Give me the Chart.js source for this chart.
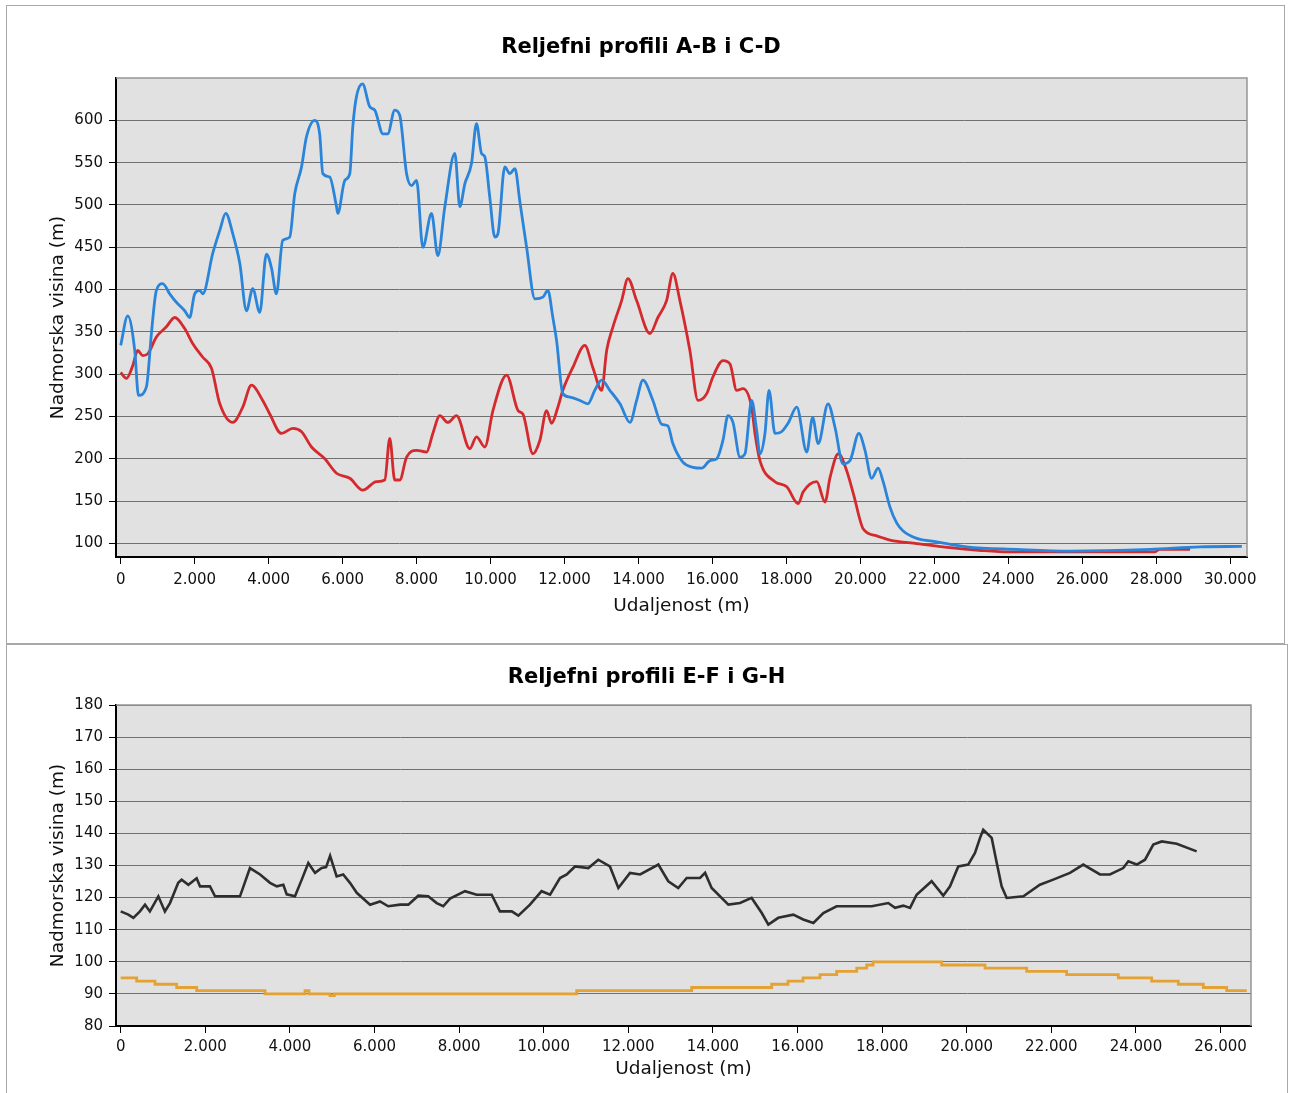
<!DOCTYPE html>
<html>
<head>
<meta charset="utf-8">
<title>Reljefni profili</title>
<script src="https://cdn.jsdelivr.net/npm/chart.js@4.4.1/dist/chart.umd.min.js"></script>
<style>
  body { margin: 0; background: #fff; width: 1292px; height: 1093px; position: relative; overflow: hidden; }
  .panel { position: absolute; border: 1px solid #a8a8a8; box-sizing: border-box; }
  canvas { position: absolute; }
</style>
</head>
<body>
<div class="panel" style="left:6px;top:5px;width:1279px;height:639px"></div>
<div class="panel" style="left:6px;top:644px;width:1282px;height:460px"></div>
<canvas id="chartTop" width="1268" height="636" style="left:7px;top:6px"></canvas>
<canvas id="chartBottom" width="1279" height="447" style="left:7px;top:646px"></canvas>
<script>
// tick vrijednosti
const xTicksTop = [0, 2000, 4000, 6000, 8000, 10000, 12000, 14000, 16000, 18000, 20000, 22000, 24000, 26000, 28000, 30000];
const yTicksTop = [100, 150, 200, 250, 300, 350, 400, 450, 500, 550, 600];
const xTicksBottom = [0, 2000, 4000, 6000, 8000, 10000, 12000, 14000, 16000, 18000, 20000, 22000, 24000, 26000];
const yTicksBottom = [80, 90, 100, 110, 120, 130, 140, 150, 160, 170, 180];

// profil A-B (plava)
const distAB = [0, 190, 380, 480, 695, 830, 920, 965, 1135, 1325,
  1505, 1730, 1865, 2000, 2135, 2220, 2490, 2680, 2840, 3030,
  3220, 3400, 3570, 3760, 3940, 4075, 4210, 4380, 4570, 4705,
  4890, 5020, 5250, 5380, 5465, 5650, 5835, 5870, 6060, 6195,
  6275, 6375, 6540, 6735, 6870, 7090, 7220, 7410, 7545, 7730,
  7865, 8000, 8170, 8405, 8575, 8765, 9035, 9170, 9305, 9485,
  9620, 9755, 9845, 9980, 10115, 10200, 10385, 10520, 10660, 10790,
  10975, 11200, 11415, 11550, 11685, 11785, 11955, 12145, 12415, 12630,
  12820, 13005, 13225, 13500, 13770, 13950, 14120, 14390, 14625, 14795,
  14930, 15200, 15475, 15710, 15935, 16115, 16285, 16420, 16555, 16745,
  16880, 17060, 17195, 17285, 17420, 17530, 17690, 17870, 18045, 18280,
  18550, 18710, 18860, 19125, 19315, 19530, 19720, 19960, 20125, 20305,
  20480, 20610, 20800, 20985, 21150, 21525, 22065, 22875, 24230, 25670,
  27835, 29185, 30315];
const elevAB = [334, 369, 328, 275, 285, 348, 387, 399, 407, 395,
  385, 375, 367, 395, 399, 395, 443, 470, 490, 466,
  431, 375, 401, 373, 442, 426, 395, 458, 462, 513,
  545, 580, 600, 584, 537, 533, 498, 490, 529, 537,
  592, 628, 643, 616, 612, 584, 584, 612, 606, 537,
  523, 529, 450, 490, 440, 498, 561, 498, 525, 549,
  596, 561, 557, 509, 462, 466, 545, 537, 543, 505,
  450, 389, 391, 399, 367, 340, 277, 273, 269, 265,
  281, 293, 281, 265, 243, 269, 293, 269, 241, 239,
  218, 196, 190, 189, 198, 200, 222, 251, 243, 202,
  206, 269, 234, 206, 230, 281, 230, 232, 242, 261,
  208, 249, 218, 265, 237, 194, 198, 230, 210, 177,
  189, 174, 143, 124, 115, 106, 102, 96, 93, 91,
  93, 96, 96.5];

// profil C-D (crvena)
const distCD = [0, 155, 325, 460, 595, 730, 965, 1235, 1460, 1730,
  1950, 2220, 2455, 2680, 3030, 3300, 3535, 3840, 4030, 4345,
  4655, 4890, 5160, 5520, 5835, 6195, 6545, 6915, 7140, 7275,
  7410, 7545, 7730, 8000, 8270, 8440, 8630, 8845, 9080, 9440,
  9620, 9845, 10065, 10435, 10745, 10875, 11145, 11335, 11515, 11650,
  11820, 11955, 12225, 12550, 12765, 13005, 13140, 13310, 13545, 13715,
  13950, 14310, 14525, 14760, 14930, 15120, 15390, 15610, 15845, 16015,
  16285, 16475, 16655, 16825, 17060, 17150, 17285, 17690, 18010, 18320,
  18455, 18820, 19045, 19180, 19405, 19630, 19810, 20080, 20440, 20800,
  21525, 22425, 23200, 24050, 26020, 27950, 28100, 28915];
const elevCD = [302, 295, 310, 328, 322, 324, 344, 356, 367, 354,
  336, 320, 307, 265, 243, 261, 287, 269, 253, 230,
  236, 232, 214, 200, 183, 177, 163, 173, 175, 224,
  175, 175, 202, 210, 208, 230, 251, 243, 251, 212,
  226, 214, 257, 299, 257, 253, 206, 222, 257, 242,
  261, 281, 308, 334, 308, 281, 328, 356, 387, 413,
  387, 348, 367, 387, 419, 387, 328, 269, 277, 297,
  316, 312, 281, 283, 261, 230, 198, 173, 167, 147,
  161, 173, 149, 178, 206, 186, 159, 117, 109, 104,
  99.8, 95, 92, 90, 90, 90, 93, 93];

// profil E-F (crna)
const distEF = [0, 180, 300, 455, 575, 690, 890, 1045, 1165, 1360,
  1440, 1600, 1795, 1875, 2110, 2230, 2820, 3055, 3295, 3530,
  3690, 3845, 3925, 4120, 4280, 4435, 4595, 4750, 4855, 4950,
  5105, 5260, 5420, 5580, 5895, 6130, 6325, 6605, 6800, 7035,
  7270, 7470, 7625, 7785, 8140, 8415, 8770, 8965, 9245, 9400,
  9675, 9950, 10150, 10385, 10545, 10740, 11055, 11290, 11565, 11765,
  12040, 12280, 12710, 12945, 13180, 13380, 13695, 13815, 13970, 14365,
  14640, 14915, 15155, 15310, 15545, 15900, 16135, 16375, 16610, 16925,
  17240, 17755, 18145, 18305, 18500, 18660, 18815, 19170, 19445, 19605,
  19800, 20035, 20195, 20315, 20390, 20590, 20710, 20825, 20945, 21340,
  21730, 22045, 22440, 22755, 23150, 23385, 23700, 23820, 24020, 24215,
  24410, 24610, 24965, 25435];
const elevEF = [115.7, 114.7, 113.7, 115.7, 117.8, 115.7, 120.4, 115.7, 118.3, 124.6,
  125.6, 124, 126, 123.5, 123.5, 120.4, 120.4, 129.2, 127.2, 124.6,
  123.5, 124, 121, 120.4, 125.6, 130.8, 127.7, 129.2, 129.5, 133,
  126.6, 127.2, 124.6, 121.5, 117.8, 118.8, 117.3, 117.8, 117.8, 120.6,
  120.4, 118.3, 117.3, 119.7, 122, 120.9, 120.9, 115.7, 115.7, 114.4,
  117.8, 122, 120.9, 126.1, 127.2, 129.7, 129.2, 131.8, 129.7, 123,
  127.7, 127.2, 130.3, 125.1, 123, 126.1, 126.1, 127.7, 123, 117.8,
  118.3, 119.9, 115.2, 111.6, 113.7, 114.7, 113.2, 112.1, 115.2, 117.3,
  117.3, 117.3, 118.3, 116.8, 117.5, 116.8, 120.9, 125.1, 120.6, 123.5,
  129.7, 130.3, 133.9, 138.6, 141.1, 138.6, 130.8, 123.5, 119.9, 120.4,
  124, 125.6, 127.7, 130.3, 127.2, 127.2, 129.2, 131.3, 130.3, 131.8,
  136.5, 137.5, 136.8, 134.4];

// profil G-H (narancasta), stepenasto
const distGH = [0, 378, 811, 1324, 1797, 3411, 4357, 4450, 4948, 5050,
  10780, 13498, 15390, 15775, 16130, 16530, 16926, 17400, 17635, 17785,
  19408, 20432, 21418, 22363, 23583, 24372, 25002, 25593, 26146, 26619];
const elevGH = [95, 94, 93, 92, 91, 90, 91, 90, 89.5, 90,
  91, 92, 93, 94, 95, 96, 97, 98, 99, 100,
  99, 98, 97, 96, 95, 94, 93, 92, 91, 91];

const toPoints = (xs, ys) => xs.map((x, i) => ({ x, y: ys[i] }));
const fmtThousands = v => String(v).replace(/\B(?=(\d{3})+(?!\d))/g, '.');
const fixedTicks = values => scale => { scale.ticks = values.map(value => ({ value })); };

Chart.defaults.font.family = 'DejaVu Sans';
Chart.defaults.color = '#111';

const plotFrame = {
  id: 'plotFrame',
  beforeDraw(chart) {
    const { ctx, chartArea: a } = chart;
    ctx.save();
    ctx.fillStyle = '#e1e1e1';
    ctx.fillRect(a.left, a.top, a.width, a.height);
    ctx.restore();
  },
  afterDraw(chart) {
    const { ctx, chartArea: a } = chart;
    ctx.save();
    ctx.strokeStyle = '#959595';
    ctx.lineWidth = 1.5;
    ctx.beginPath();
    ctx.moveTo(a.left, a.top);
    ctx.lineTo(a.right, a.top);
    ctx.lineTo(a.right, a.bottom);
    ctx.stroke();
    ctx.restore();
  }
};

function makeOptions(cfg) {
  return {
    responsive: false,
    animation: false,
    events: [],
    layout: { padding: 0 },
    plugins: {
      legend: { display: false },
      tooltip: { enabled: false },
      title: {
        display: true,
        text: cfg.title,
        color: '#000',
        font: { size: 21, weight: 'bold' },
        padding: { top: cfg.titleTop, bottom: cfg.titleBottom }
      }
    },
    scales: {
      x: {
        type: 'linear',
        min: cfg.xMin,
        max: cfg.xMax,
        afterBuildTicks: fixedTicks(cfg.xTicks),
        grid: { drawOnChartArea: false, drawTicks: true, tickLength: 7, tickColor: '#000', tickWidth: 1 },
        border: { display: true, color: '#000', width: 2 },
        ticks: {
          autoSkip: false, maxRotation: 0, padding: cfg.xTickPad,
          font: { size: 15 }, color: '#111',
          callback: v => fmtThousands(v)
        },
        title: {
          display: true, text: 'Udaljenost (m)', color: '#111',
          font: { size: 18.5 }, padding: { top: 0, bottom: cfg.xTitlePad }
        },
        afterFit: s => { s.height = cfg.xHeight; }
      },
      y: {
        type: 'linear',
        min: cfg.yMin,
        max: cfg.yMax,
        afterBuildTicks: fixedTicks(cfg.yTicks),
        grid: {
          color: '#707070', lineWidth: 1, borderDash: [1, 1],
          drawTicks: true, tickLength: 7, tickColor: '#000', tickWidth: 1, tickBorderDash: []
        },
        border: { display: true, color: '#000', width: 2 },
        ticks: {
          autoSkip: false, padding: 6,
          font: { size: 15 }, color: '#111'
        },
        title: {
          display: true, text: 'Nadmorska visina (m)', color: '#111',
          font: { size: 18.5 }, padding: { top: 40, bottom: 0 }
        },
        afterFit: s => { s.width = 109; }
      },
      padRight: {
        type: 'linear',
        position: 'right',
        display: true,
        grid: { display: false, drawTicks: false },
        border: { display: false },
        ticks: { display: false },
        afterFit: s => { s.width = cfg.rightPad; }
      }
    }
  };
}

new Chart(document.getElementById('chartTop'), {
  type: 'line',
  data: {
    datasets: [
      {
        label: 'A-B',
        data: toPoints(distAB, elevAB),
        borderColor: '#2a84d9',
        borderWidth: 2.8,
        pointRadius: 0,
        cubicInterpolationMode: 'monotone'
      },
      {
        label: 'C-D',
        data: toPoints(distCD, elevCD),
        borderColor: '#d42a2e',
        borderWidth: 2.8,
        pointRadius: 0,
        cubicInterpolationMode: 'monotone'
      }
    ]
  },
  options: makeOptions({
    title: 'Reljefni profili A-B i C-D',
    titleTop: 29.4, titleBottom: 17.4,
    xMin: -127, xMax: 30454, xTicks: xTicksTop, xHeight: 85, xTickPad: 7, xTitlePad: 25,
    yMin: 84, yMax: 650, yTicks: yTicksTop,
    rightPad: 28
  }),
  plugins: [plotFrame]
});

new Chart(document.getElementById('chartBottom'), {
  type: 'line',
  data: {
    datasets: [
      {
        label: 'E-F',
        data: toPoints(distEF, elevEF),
        borderColor: '#2e2e2e',
        borderWidth: 2.6,
        pointRadius: 0
      },
      {
        label: 'G-H',
        data: toPoints(distGH, elevGH),
        borderColor: '#e3a233',
        borderWidth: 2.8,
        pointRadius: 0,
        stepped: true
      }
    ]
  },
  options: makeOptions({
    title: 'Reljefni profili E-F i G-H',
    titleTop: 19.4, titleBottom: 14.4,
    xMin: -111, xMax: 26720, xTicks: xTicksBottom, xHeight: 67, xTickPad: 5, xTitlePad: 13,
    yMin: 80, yMax: 180, yTicks: yTicksBottom,
    rightPad: 35
  }),
  plugins: [plotFrame]
});
</script>
</body>
</html>
